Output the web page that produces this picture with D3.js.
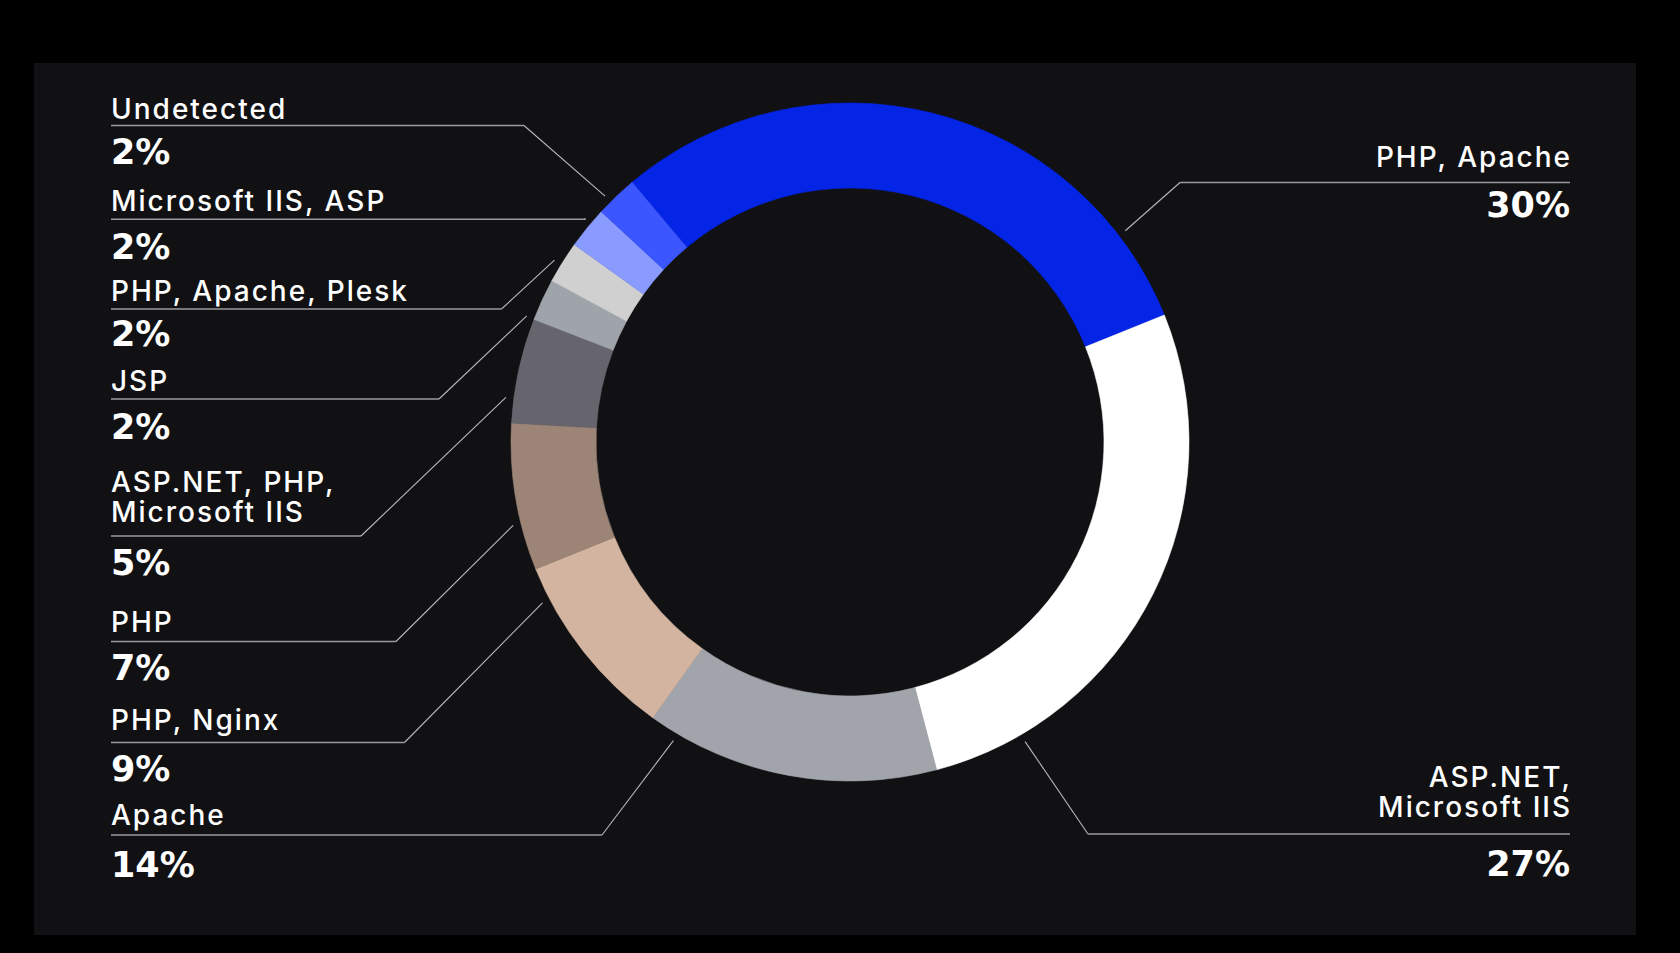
<!DOCTYPE html>
<html>
<head>
<meta charset="utf-8">
<script src="https://cdn.jsdelivr.net/npm/d3@7"></script>
<style>
  html, body { margin: 0; padding: 0; background: #000; }
  svg { display: block; }
</style>
</head>
<body>
<svg id="chart" width="1680" height="953"></svg>
<script>
// ---- data ----
const categories = ["PHP, Apache", "ASP.NET, Microsoft IIS", "Apache", "PHP, Nginx", "PHP",
  "ASP.NET, PHP, Microsoft IIS", "JSP", "PHP, Apache, Plesk", "Microsoft IIS, ASP", "Undetected"];
const values = [30, 27, 14, 9, 7, 5, 2, 2, 2, 2];
const labelLines = [["PHP, Apache"], ["ASP.NET,", "Microsoft IIS"], ["Apache"], ["PHP, Nginx"], ["PHP"],
  ["ASP.NET, PHP,", "Microsoft IIS"], ["JSP"], ["PHP, Apache, Plesk"], ["Microsoft IIS, ASP"], ["Undetected"]];
const colors = ["#0424e6", "#ffffff", "#a1a4ab", "#d3b4a0", "#9c8576",
  "#66656d", "#9fa4aa", "#d0d0d0", "#8a9bff", "#3c56ff"];

// ---- layout (label placement) ----
const labelLayout = [
  { side: "right", nameY: 167, lineY: 182.5, pctY: 217, elbowX: 1180, angle: 52.5 },
  { side: "right", nameY: 787, lineY: 834, pctY: 876, elbowX: 1088, angle: 149.7 },
  { side: "left", nameY: 825, lineY: 835, pctY: 877, elbowX: 602, angle: 210.6 },
  { side: "left", nameY: 730, lineY: 742.5, pctY: 781, elbowX: 404.5, angle: 242.4 },
  { side: "left", nameY: 632, lineY: 641.5, pctY: 680, elbowX: 396, angle: 256.1 },
  { side: "left", nameY: 492, lineY: 536, pctY: 575, elbowX: 361, angle: 277.4 },
  { side: "left", nameY: 391, lineY: 399, pctY: 438.5, elbowX: 439, angle: 291.3 },
  { side: "left", nameY: 301, lineY: 309, pctY: 346, elbowX: 501.5, angle: 301.6 },
  { side: "left", nameY: 211, lineY: 219.3, pctY: 258.5, elbowX: 585.5, angle: 310.1 },
  { side: "left", nameY: 119, lineY: 125.5, pctY: 163.5, elbowX: 524, angle: 315.1 }
];

const W = 1680, H = 953;
const cx = 850, cy = 442, rOuter = 339, rInner = 254, rLeader = 347;
const leftX = 111, rightX = 1570;
const nameSpacing = 2.0;

const svg = d3.select("#chart");
svg.append("rect").attr("x", 0).attr("y", 0).attr("width", W).attr("height", H).attr("fill", "#000");
svg.append("rect").attr("x", 34).attr("y", 63).attr("width", 1602).attr("height", 872).attr("fill", "#111114");

const rad = d => d * Math.PI / 180;
const pie = d3.pie().sort(null).value(d => d).startAngle(rad(-40)).endAngle(rad(320));
const arc = d3.arc().innerRadius(rInner).outerRadius(rOuter);
const arcs = pie(values);

const g = svg.append("g").attr("transform", `translate(${cx},${cy})`);
g.selectAll("path.slice").data(arcs).join("path")
  .attr("class", "slice")
  .attr("d", arc)
  .attr("fill", (d, i) => colors[i])
  .attr("stroke", (d, i) => colors[i])
  .attr("stroke-width", 0.6);

// ---- labels ----
const lab = svg.append("g");
labelLayout.forEach((L, i) => {
  const a = rad(L.angle);
  const px = cx + rLeader * Math.sin(a), py = cy - rLeader * Math.cos(a);
  const textX = L.side === "left" ? leftX : rightX;
  lab.append("line")
    .attr("x1", textX).attr("x2", L.elbowX)
    .attr("y1", L.lineY).attr("y2", L.lineY)
    .attr("stroke", "#9a9a9c").attr("stroke-width", 1.6);
  lab.append("line")
    .attr("x1", L.elbowX).attr("y1", L.lineY)
    .attr("x2", px).attr("y2", py)
    .attr("stroke", "#b8b8bb").attr("stroke-width", 1.1);
  const anchor = L.side === "left" ? "start" : "end";
  const t = lab.append("text")
    .attr("x", textX).attr("y", L.nameY)
    .attr("text-anchor", anchor)
    .attr("fill", "#ffffff")
    .attr("font-family", "Inter, 'DejaVu Sans', sans-serif")
    .attr("font-weight", 500)
    .attr("font-size", 28)
    .attr("letter-spacing", nameSpacing + "px");
  labelLines[i].forEach((s, k) => {
    t.append("tspan").attr("x", textX + (L.side === "right" ? nameSpacing : 0)).attr("dy", k === 0 ? 0 : 30).text(s);
  });
  lab.append("text")
    .attr("x", textX).attr("y", L.pctY)
    .attr("text-anchor", anchor)
    .attr("fill", "#ffffff")
    .attr("font-family", "'DejaVu Sans', sans-serif")
    .attr("font-weight", "bold")
    .attr("font-size", 35)
    .text(values[i] + "%");
});
</script>
</body>
</html>
